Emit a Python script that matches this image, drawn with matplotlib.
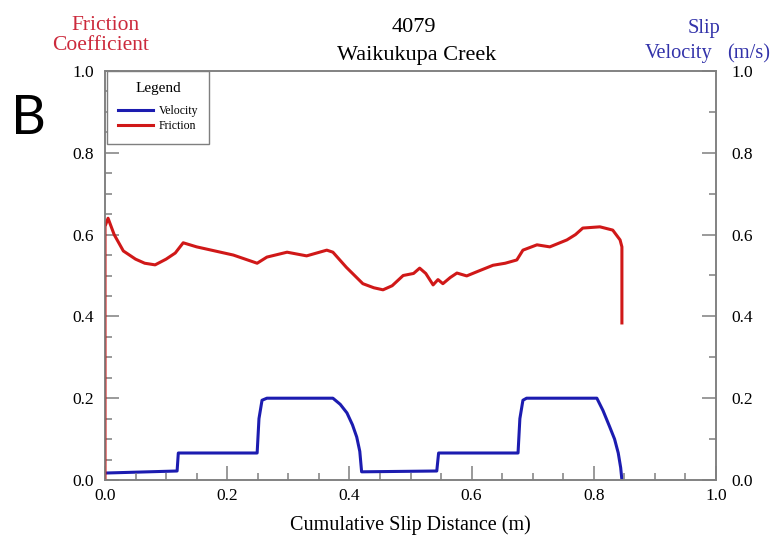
import matplotlib.pyplot as plt
from matplotlib.ticker import MultipleLocator

# friction coefficient vs cumulative slip distance
friction_dist = [0.0, 0.0, 0.005, 0.015, 0.03, 0.05, 0.065, 0.082, 0.10, 0.115,
                 0.128, 0.15, 0.18, 0.21, 0.249, 0.265, 0.298, 0.33, 0.363, 0.373,
                 0.395, 0.422, 0.44, 0.455, 0.47, 0.488, 0.505, 0.515, 0.525, 0.537,
                 0.545, 0.553, 0.565, 0.576, 0.592, 0.61, 0.635, 0.655, 0.674, 0.684,
                 0.707, 0.728, 0.756, 0.77, 0.782, 0.81, 0.831, 0.843, 0.846, 0.846]
friction_coef = [0.0, 0.62, 0.64, 0.60, 0.56, 0.54, 0.53, 0.526, 0.54, 0.555,
                 0.58, 0.57, 0.56, 0.55, 0.53, 0.545, 0.557, 0.548, 0.562, 0.557,
                 0.52, 0.48, 0.47, 0.465, 0.475, 0.50, 0.505, 0.518, 0.505, 0.477,
                 0.49, 0.48, 0.495, 0.506, 0.499, 0.51, 0.525, 0.53, 0.538, 0.562,
                 0.575, 0.57, 0.587, 0.60, 0.616, 0.619, 0.611, 0.587, 0.57, 0.384]

# slip velocity (m/s) vs cumulative slip distance
velocity_dist = [0.0, 0.118, 0.12, 0.249, 0.252, 0.257, 0.265, 0.373, 0.385, 0.396,
                 0.405, 0.412, 0.417, 0.42, 0.543, 0.546, 0.676, 0.679, 0.684, 0.69,
                 0.805, 0.815, 0.826, 0.834, 0.84, 0.844, 0.846]
velocity = [0.017, 0.022, 0.066, 0.066, 0.15, 0.195, 0.2, 0.2, 0.185, 0.164,
            0.135, 0.105, 0.07, 0.02, 0.022, 0.066, 0.066, 0.15, 0.195, 0.2,
            0.2, 0.17, 0.13, 0.1, 0.066, 0.03, 0.0]

serif = 'Liberation Serif'
red = '#d01818'
blue = '#1c1cb0'
grey = '#7f7f7f'
W, H = 773, 539

fig = plt.figure(figsize=(W / 100, H / 100), dpi=100)
ax = fig.add_axes([105 / W, 59 / H, 611 / W, 409 / H])
ax2 = ax.twinx()

ax2.plot(velocity_dist, velocity, color=blue, lw=2.2, label='Velocity')
ax.plot(friction_dist, friction_coef, color=red, lw=2.2, label='Friction')
ax.set_zorder(ax2.get_zorder() + 1)
ax.patch.set_visible(False)

for a in (ax, ax2):
    a.set_xlim(0, 1)
    a.set_ylim(0, 1)
    for s in a.spines.values():
        s.set_color(grey)
        s.set_linewidth(1.1)

ax.xaxis.set_major_locator(MultipleLocator(0.2))
ax.xaxis.set_minor_locator(MultipleLocator(0.05))
ax.yaxis.set_major_locator(MultipleLocator(0.2))
ax.yaxis.set_minor_locator(MultipleLocator(0.05))
ax2.yaxis.set_major_locator(MultipleLocator(0.2))
ax2.yaxis.set_minor_locator(MultipleLocator(0.1))

ax.tick_params(which='both', direction='in', color=grey, width=1.1,
               labelsize=12.5, labelfontfamily=serif, top=False, right=False)
ax.tick_params(which='major', length=10, pad=8)
ax.tick_params(axis='x', which='major', pad=6)
ax.tick_params(which='minor', length=5)
ax2.tick_params(which='both', direction='in', color=grey, width=1.1,
                labelsize=12.5, labelfontfamily=serif)
ax2.tick_params(which='major', length=10, pad=11)
ax2.tick_params(which='minor', length=5)
ax.xaxis.set_major_formatter('{x:.1f}')
ax.yaxis.set_major_formatter('{x:.1f}')
ax2.yaxis.set_major_formatter('{x:.1f}')

ax.set_xlabel('Cumulative Slip Distance (m)', family=serif, fontsize=14.5, labelpad=8)


def px_text(x, y, s, size=16, **kw):
    # place text by pixel position measured from the top-left corner
    fig.text(x / W, 1 - y / H, s, family=serif, fontsize=size, va='baseline', **kw)


px_text(414, 32, '4079', ha='center')
px_text(417, 60, 'Waikukupa Creek', ha='center')
px_text(105, 30, 'Friction', size=15.5, ha='center', color='#cc2a3c')
px_text(101, 50, 'Coefficient', size=15.5, ha='center', color='#cc2a3c')
px_text(720, 33, 'Slip', size=14.7, ha='right', color='#3333aa')
px_text(713, 58, 'Velocity', size=14.7, ha='right', color='#3333aa')
px_text(727, 58, '(m/s)', size=14.7, ha='left', color='#3333aa')
fig.text(29 / W, 1 - 134 / H, 'B', ha='center', va='baseline', family='Lato', fontsize=39)

handles = ax2.get_lines() + ax.get_lines()
leg = ax.legend(handles, [h.get_label() for h in handles], title='Legend',
                loc='upper left', bbox_to_anchor=(0.003, 1.0), borderaxespad=0,
                fancybox=False, edgecolor=grey, framealpha=1,
                prop={'family': serif, 'size': 8.5}, handlelength=3.0,
                borderpad=0.95, labelspacing=0.3, handletextpad=0.45)
leg.get_title().set_family(serif)
leg.get_title().set_fontsize(11)
leg.get_frame().set_linewidth(1.0)
leg._legend_box.sep = 7  # extra room between the title and the entries

fig.savefig('out.png', dpi=100)
